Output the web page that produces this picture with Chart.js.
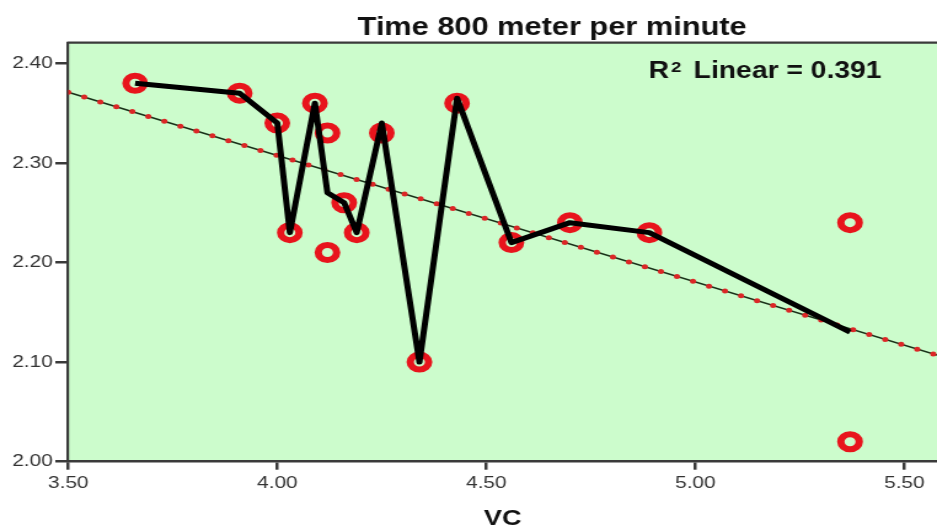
<!DOCTYPE html>
<html><head><meta charset="utf-8">
<script src="https://cdn.jsdelivr.net/npm/chart.js@4/dist/chart.umd.min.js"></script>
<style>
html,body{margin:0;padding:0;background:#fff;overflow:hidden}
#c{display:block;width:937px;height:527px}
</style>
</head><body>
<canvas id="c" width="762" height="527" style="width:937px;height:527px"></canvas>
<script>
// ---- texts ----
const chartTitle = 'Time 800 meter per minute';
const xAxisTitle = 'VC';
const fitLabelMain = 'R';
const fitLabelSup = '2';
const fitLabelRest = 'Linear = 0.391';

// ---- observed points (VC, time) ----
const vcValues   = [3.66, 3.91, 4.00, 4.09, 4.12, 4.03, 4.12, 4.16, 4.19, 4.25, 4.34, 4.43, 4.56, 4.70, 4.89, 5.37, 5.37];
const timeValues = [2.38, 2.37, 2.34, 2.36, 2.33, 2.23, 2.21, 2.26, 2.23, 2.33, 2.10, 2.36, 2.22, 2.24, 2.23, 2.24, 2.02];

// ---- interpolation line through mean at each VC ----
const meanVC   = [3.66, 3.91, 4.00, 4.03, 4.09, 4.12, 4.16, 4.19, 4.25, 4.34, 4.43, 4.56, 4.70, 4.89, 5.37];
const meanTime = [2.38, 2.37, 2.34, 2.23, 2.36, 2.27, 2.26, 2.23, 2.34, 2.10, 2.365, 2.22, 2.24, 2.23, 2.13];

// ---- linear fit line endpoints ----
const fitVC   = [3.50, 5.578];
const fitTime = [2.371, 2.107];

// ---- axes ----
const xMin = 3.50, xMax = 5.578;
const yMin = 2.00, yMax = 2.4207;
const xTickValues = [3.50, 4.00, 4.50, 5.00, 5.50];
const yTickValues = [2.00, 2.10, 2.20, 2.30, 2.40];

const toPts = (xs, ys) => xs.map((x, i) => ({x: x, y: ys[i]}));

Chart.defaults.font.family = "'Liberation Sans', Arial, sans-serif";

const FONT = "'Liberation Sans', Arial, sans-serif";
const plotPlugin = {
  id: 'plotDecor',
  beforeDraw(chart) {
    const {ctx, chartArea: a} = chart;
    ctx.save();
    ctx.fillStyle = '#ccfccc';
    ctx.fillRect(a.left, a.top, a.right - a.left, a.bottom - a.top);
    ctx.restore();
  },
  afterDraw(chart) {
    const {ctx, chartArea: a} = chart;
    ctx.save();
    ctx.strokeStyle = '#3a3a3a';
    ctx.lineWidth = 2.2;
    ctx.beginPath();
    ctx.moveTo(a.left - 1, a.top);
    ctx.lineTo(a.right, a.top);
    ctx.stroke();
    ctx.fillStyle = '#111';
    ctx.textBaseline = 'alphabetic';
    ctx.textAlign = 'center';
    ctx.font = 'bold 25px ' + FONT;
    ctx.fillText(chartTitle, a.left + 393.5, 35);
    ctx.textAlign = 'left';
    ctx.font = 'bold 23px ' + FONT;
    ctx.fillText(fitLabelMain, a.left + 472, 78);
    ctx.font = 'bold 15px ' + FONT;
    ctx.fillText(fitLabelSup, a.left + 490.2, 71.5);
    ctx.font = 'bold 23px ' + FONT;
    ctx.fillText(fitLabelRest, a.left + 508.6, 78);
    ctx.restore();
  }
};

new Chart(document.getElementById('c'), {
  type: 'scatter',
  data: {
    datasets: [
      {
        type: 'line',
        label: 'mean',
        data: toPts(meanVC, meanTime),
        borderColor: '#000',
        borderWidth: 5,
        borderJoinStyle: 'round',
        borderCapStyle: 'butt',
        pointRadius: 0,
        fill: false,
        tension: 0,
        order: 0
      },
      {
        type: 'scatter',
        label: 'points',
        data: toPts(vcValues, timeValues),
        pointStyle: 'circle',
        pointRadius: 7.5,
        pointBorderWidth: 6,
        pointBorderColor: '#e8141c',
        pointBackgroundColor: 'rgba(0,0,0,0)',
        showLine: false,
        order: 1
      },
      {
        type: 'line',
        label: 'fit dots',
        data: toPts(fitVC, fitTime),
        borderColor: '#dc2626',
        borderWidth: 5,
        borderDash: [0, 13.9],
        borderCapStyle: 'round',
        pointRadius: 0,
        fill: false,
        order: 2
      },
      {
        type: 'line',
        label: 'fit',
        data: toPts(fitVC, fitTime),
        borderColor: '#183018',
        borderWidth: 1.5,
        pointRadius: 0,
        fill: false,
        order: 3
      }
    ]
  },
  options: {
    responsive: false,
    devicePixelRatio: 1,
    animation: false,
    events: [],
    layout: {autoPadding: false, padding: {top: 42.7, right: 0, left: 0, bottom: 0}},
    plugins: {legend: {display: false}, tooltip: {enabled: false}, title: {display: false}},
    scales: {
      x: {
        type: 'linear',
        min: xMin, max: xMax,
        afterBuildTicks: s => { s.ticks = xTickValues.map(v => ({value: v})); },
        afterFit: s => { s.height = 65.3; s.paddingLeft = 0; s.paddingRight = 0; },
        ticks: {
          callback: v => Number(v).toFixed(2),
          font: {size: 17}, color: '#333', padding: 3,
          maxRotation: 0, autoSkip: false
        },
        grid: {drawOnChartArea: false, drawTicks: true, tickLength: 8, color: '#3a3a3a', lineWidth: 2.5},
        border: {display: true, color: '#3a3a3a', width: 2.5},
        title: {display: true, text: xAxisTitle, color: '#111', font: {size: 22, weight: 'bold', lineHeight: 0.77}, padding: 0}
      },
      y: {
        type: 'linear',
        min: yMin, max: yMax,
        afterBuildTicks: s => { s.ticks = yTickValues.map(v => ({value: v})); },
        afterFit: s => { s.width = 55.5; s.paddingTop = 0; s.paddingBottom = 0; },
        ticks: {
          callback: v => Number(v).toFixed(2),
          font: {size: 17}, color: '#333', padding: 2,
          autoSkip: false
        },
        grid: {drawOnChartArea: false, drawTicks: true, tickLength: 10.5, color: '#3a3a3a', lineWidth: 2.5},
        border: {display: true, color: '#3a3a3a', width: 2.2}
      }
    }
  },
  plugins: [plotPlugin]
});
</script>
</body></html>
